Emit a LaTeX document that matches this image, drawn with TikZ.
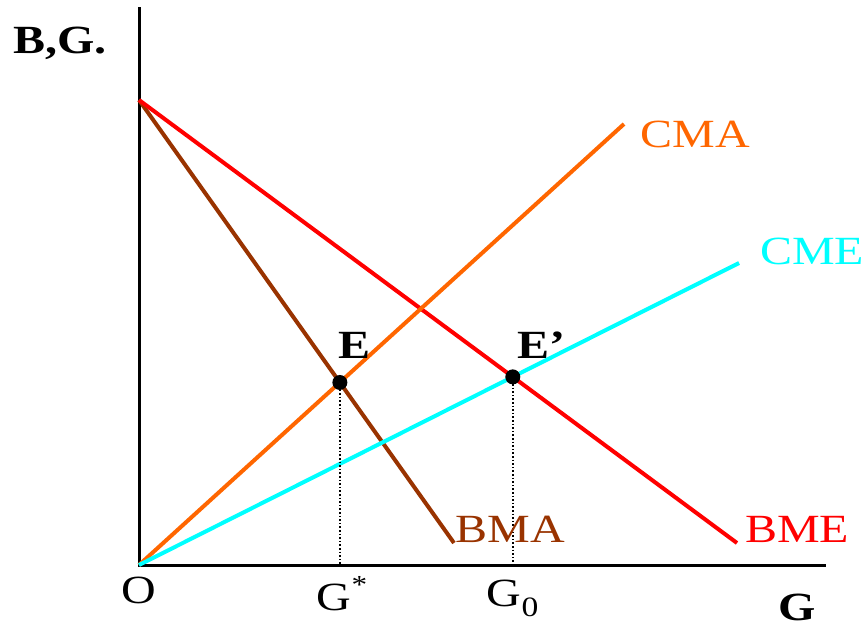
\documentclass[tikz,border=0pt]{standalone}
\usepackage{fontspec}
\setmainfont{Liberation Serif}
\newcommand{\wide}[1]{\scalebox{1.2}[1]{#1}}
\begin{document}
\begin{tikzpicture}[x=1pt,y=-1pt,
  lbl/.style={inner sep=0pt,font=\fontsize{40}{46}\selectfont},
  blbl/.style={inner sep=0pt,font=\fontsize{40}{46}\selectfont\bfseries},
  curve/.style={line width=4pt},
  axis/.style={line width=3pt,black},
  guide/.style={line width=1.6pt,dotted,black},
  dot/.style={circle,fill=black,inner sep=0pt,minimum size=15pt}]
\definecolor{myred}{RGB}{255,0,0}
\definecolor{mybrown}{RGB}{153,51,0}
\definecolor{myorange}{RGB}{255,102,0}
\definecolor{mycyan}{RGB}{0,255,255}
\useasboundingbox (0,0) rectangle (866,627);
% axes
\coordinate (O) at (139,565);
\coordinate (ytop) at (139,7);
\coordinate (xend) at (826,565);
\coordinate (top) at (139,100);
\coordinate (bme) at (737,543);
\coordinate (bma) at (454,543);
\coordinate (cma) at (624,124);
\coordinate (cme) at (739,263);
\draw[axis] (ytop) -- (O) -- (xend);
% curves
\draw[curve,mybrown] (top) -- (bma);
\draw[curve,myred] (top) -- (bme);
\draw[curve,myorange] (O) -- (cma);
\draw[curve,mycyan] (O) -- (cme);
% equilibrium points
\coordinate (Ept) at (intersection of top--bma and O--cma);
\coordinate (Fpt) at (intersection of top--bme and O--cme);
\coordinate (Eax) at (Ept |- O);
\coordinate (Fax) at (Fpt |- O);
\draw[guide] (Ept) -- (Eax);
\draw[guide] (Fpt) -- (Fax);
\node[dot] (E) at (Ept) {};
\node[dot] (F) at (Fpt) {};
% labels
\node[blbl] (lBG) at (60,43) {\wide{B,G.}};
\node[blbl] (lE) at (355,345) {\wide{E}};
\node[blbl] (lF) at (541,345) {\wide{E’}};
\node[lbl,text=myorange] (lCMA) at (695,134) {\wide{CMA}};
\node[lbl,text=mycyan] (lCME) at (812,251) {\wide{CME}};
\node[lbl,text=mybrown] (lBMA) at (510,529) {\wide{BMA}};
\node[lbl,text=myred] (lBME) at (797,529) {\wide{BME}};
\node[lbl] (lO) at (139,590) {\wide{O}};
\node[lbl] (lGs) at (342,594) {\wide{G\raisebox{0.42em}{\fontsize{26}{26}\selectfont *}}};
\node[lbl] (lG0) at (513,598) {\wide{G\textsubscript{0}}};
\node[blbl] (lG) at (797,607) {\wide{G}};
\end{tikzpicture}
\end{document}
